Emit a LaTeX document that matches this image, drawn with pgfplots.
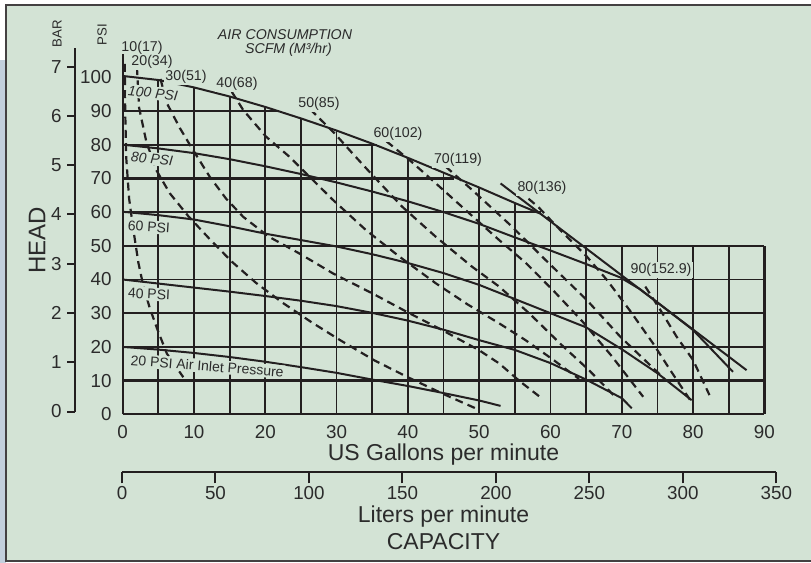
\documentclass[border=0pt]{standalone}
\usepackage{pgfplots}
\pgfplotsset{compat=1.18}
\usepackage{fontspec}
\setmainfont{Liberation Sans}
\definecolor{bg}{HTML}{D3E3D5}
\definecolor{ink}{HTML}{231F20}
\definecolor{txt}{HTML}{2B2B2B}
\definecolor{edge}{HTML}{C3D0DD}
\tikzset{
  grid line/.style={ink, line width=0.9pt},
  grid bold/.style={ink, line width=1.15pt},
  curve/.style={ink, line width=1pt, line join=round},
  air/.style={ink, line width=1.1pt, dash pattern=on 4pt off 2.6pt, line join=round},
  lbl/.style={font=\fontsize{7.1}{8}\selectfont, text=txt, inner sep=0pt},
  masked/.style={fill=bg, inner sep=0.8pt},
}
\begin{document}
\begin{tikzpicture}
% frame: 811 x 563 px at 0.5pt per px
\begin{scope}[x=0.5pt,y=-0.5pt]
\useasboundingbox (0,0) rectangle (811,563);
\fill[white] (0,0) rectangle (811,563);
\fill[edge] (0,60) rectangle (6,563);
\fill[bg] (6,5) rectangle (811,561);
\draw[ink!85, line width=1.2pt] (811,5) -- (6,5) -- (6,561) -- (811,561);
\end{scope}

% BAR scale
\begin{axis}[
  at={(37.5pt,-205.75pt)}, anchor=south west,
  scale only axis, width=1pt, height=181.8pt,
  xmin=0, xmax=1, ymin=0, ymax=7.38,
  axis y line=left, axis x line=none,
  axis line style={ink, line width=1pt, -},
  ytick={0,...,7}, xtick=\empty,
  tick align=outside, major tick length=4pt,
  tick style={ink, line width=1pt},
  /pgf/number format/assume math mode=true,
  yticklabel style={font=\fontsize{9.4}{10}\selectfont, text=txt, inner sep=0pt, anchor=east, xshift=-2.5pt},
]
\addplot[draw=none] coordinates {(0,0) (1,7)};
\end{axis}

% Liters per minute scale
\begin{axis}[
  at={(61pt,-235.85pt)}, anchor=south west,
  scale only axis, width=327.2pt, height=1pt,
  xmin=0, xmax=350, ymin=0, ymax=1,
  axis x line=bottom, axis y line=none,
  axis line style={ink, line width=1.2pt, -},
  xtick={0,50,...,350}, ytick=\empty,
  tick align=outside, major tick length=5.85pt,
  tick style={ink, line width=1pt},
  /pgf/number format/assume math mode=true,
  xticklabel style={font=\fontsize{9.4}{10}\selectfont, text=txt, inner sep=0pt, anchor=north, yshift=-1.45pt},
]
\addplot[draw=none] coordinates {(0,0) (350,1)};
\end{axis}

% main chart: head (PSI) vs US gallons per minute
\begin{axis}[
  at={(61.35pt,-207.15pt)}, anchor=south west,
  scale only axis, width=320.85pt, height=185.35pt,
  xmin=0, xmax=90, ymin=0, ymax=110,
  axis x line*=bottom, axis y line*=left,
  axis line style={draw=none}, major tick length=0pt,
  xtick={0,10,...,90}, ytick={0,10,...,100},
  /pgf/number format/assume math mode=true,
  tick label style={font=\fontsize{9.4}{10}\selectfont, text=txt, inner sep=0pt},
  xticklabel style={anchor=north, yshift=-5.5pt},
  yticklabel style={anchor=east, xshift=-5.35pt},
  clip=false,
  unbounded coords=jump,
]
% grid under the 100 PSI curve
\addplot[grid line] coordinates {
 (5,0) (5,99.2) (nan,nan)
 (10,0) (10,97.0) (nan,nan)
 (15,0) (15,94.3) (nan,nan)
 (20,0) (20,91.2) (nan,nan)
 (25,0) (25,87.8) (nan,nan)
 (30,0) (30,84.2) (nan,nan)
 (35,0) (35,80.3) (nan,nan)
 (40,0) (40,76.1) (nan,nan)
 (45,0) (45,71.7) (nan,nan)
 (50,0) (50,67.3) (nan,nan)
 (55,0) (55,62.7) (nan,nan)
 (60,0) (60,57.4) (nan,nan)
 (65,0) (65,50) (nan,nan)
 (70,0) (70,50) (nan,nan)
 (75,0) (75,50) (nan,nan)
 (80,0) (80,50) (nan,nan)
 (85,0) (85,50) (nan,nan)
 (0,20) (90,20) (nan,nan)
 (0,30) (90,30) (nan,nan)
 (0,40) (90,40) (nan,nan)
 (0,60) (58.6,60) (nan,nan)
 (0,80) (35.6,80)
};
\addplot[grid bold] coordinates {
 (0,0) (0,107) (nan,nan)
 (90,0) (90,50) (nan,nan)
 (0,0) (90,0) (nan,nan)
 (0,10) (90,10) (nan,nan)
 (0,50) (90,50) (nan,nan)
 (0,70) (46.4,70) (nan,nan)
 (0,90) (21.6,90)
};

% pressure curves
\addplot[curve] coordinates {(0,100.4) (5,99.2) (10,97.0) (15,94.3) (20,91.2) (25,87.8) (30,84.2) (35,80.3) (40,76.1) (45,71.7) (50,67.3) (55,62.7) (58.5,59.6)};
\addplot[curve] coordinates {(53,68.5) (87.5,13.1)};
\addplot[curve] coordinates {(0,80) (5,78.9) (10,77.5) (15,75.7) (20,73.6) (25,71.3) (30,68.8) (35,66.1) (40,63.2) (45,60) (50,56.5) (55,52.5) (60,48.6) (65,44.6) (69.8,40.6) (72.5,37.2) (75,33.2) (80,25) (85.6,12.6)};
\addplot[curve] coordinates {(0,60.1) (5,59.1) (10,57.8) (15,55.8) (20,53.6) (25,51.7) (30,49.8) (35,47.5) (40,44.9) (45,41.9) (50,38.4) (55,34.2) (60,30) (65,25.8) (70,19.3) (75,12.2) (79.8,4.2)};
\addplot[curve] coordinates {(0,40) (5,38.8) (10,37.6) (15,36.4) (20,35.1) (25,33.7) (30,32.1) (35,30.1) (40,27.8) (45,25.1) (50,22) (55,19.1) (60,15.2) (65,10.3) (70,4.8) (71.4,1.8)};
\addplot[curve] coordinates {(0,20) (5,19.2) (10,18.2) (15,17) (20,15.6) (25,14) (30,12.3) (35,10.3) (40,8.4) (45,6.3) (50,4.1) (53,2.5)};

% air consumption lines (SCFM)
\addplot[air] coordinates {(0.3,104) (0.35,90) (0.5,76) (0.9,64) (1.5,54.7) (2.2,45) (2.9,38) (3.8,31.5) (4.9,25) (6.2,18) (8.5,11)};
\addplot[air] coordinates {(2,103) (2.3,91) (3.3,81) (4.7,72.5) (6.6,65.6) (9.2,58.8) (12.2,52) (15.3,45.3) (18.7,39) (22.5,33) (26.5,27.3) (30.5,22) (35.3,16) (40,11) (45,6) (50,1.3)};
\addplot[air] coordinates {(5.3,99.5) (6.2,92.3) (8,85) (9.7,79) (12.2,70.5) (14.5,64) (16.9,58.6) (20.5,52.7) (24.8,47.7) (29.5,41.8) (35,35.9) (40.2,30) (44.8,25) (50,19) (52.8,15.1) (55.7,9.8) (58.5,5.2)};
\addplot[air] coordinates {(15.3,95.7) (16.9,90.3) (20.1,82.4) (23.4,76.4) (26.2,70.5) (29.5,63.6) (34.1,54.7) (38.8,46.8) (43.9,38.9) (48.3,32.7) (52.8,27) (56.5,22) (60.5,16) (64,10.5)};
\addplot[air] coordinates {(26.3,90.5) (29.7,83.4) (32.2,77.5) (34.8,71.5) (39.2,61.6) (43.9,52.7) (49,43.8) (52.8,37.9) (57,30) (61.6,20.5) (65.4,13.1) (69.3,4.7)};
\addplot[air] coordinates {(37,81) (40.2,75.5) (44.2,68) (48.1,60.6) (52.8,51.7) (56.5,45) (60.5,36.5) (64.5,27.5) (68.5,17.5) (73,5.2)};
\addplot[air] coordinates {(45.3,73.5) (49,66.6) (54.6,55.7) (59.3,45.8) (65.1,33.9) (69.8,23) (75.9,10.7)};
\addplot[air] coordinates {(55.5,66.5) (58.3,61.5) (60.9,55.7) (65.1,46.8) (67.9,39.9) (71.1,30.9) (74.4,21) (76.8,13.1) (79.6,4.2)};
\addplot[air] coordinates {(73.3,37.9) (75.4,31) (77.7,23) (80,16.1) (82.3,5.7)};

% labels
\node[lbl] at (axis cs:2.71,108.8) {10(17)};
\node[lbl, masked] at (axis cs:4.11,104.5) {20(34)};
\node[lbl, masked] at (axis cs:8.88,100.1) {30(51)};
\node[lbl, masked] at (axis cs:16.03,98.0) {40(68)};
\node[lbl, masked] at (axis cs:27.53,92.1) {50(85)};
\node[lbl, masked] at (axis cs:38.61,83.2) {60(102)};
\node[lbl, masked] at (axis cs:47.03,75.5) {70(119)};
\node[lbl, masked] at (axis cs:58.81,67.3) {80(136)};
\node[lbl, masked] at (axis cs:75.5,42.8) {90(152.9)};
\node[lbl, font=\fontsize{7.1}{8}\selectfont\itshape] at (axis cs:22.76,112.7) {AIR CONSUMPTION};
\node[lbl, font=\fontsize{7.1}{8}\selectfont\itshape] at (axis cs:23.25,108.1) {SCFM (M³/hr)};
\node[lbl, masked, font=\fontsize{7}{8}\selectfont\itshape, rotate=-6] at (axis cs:4.25,95.3) {100 PSI};
\node[lbl, masked, font=\fontsize{7}{8}\selectfont\itshape, rotate=-5] at (axis cs:4.11,75.8) {80 PSI};
\node[lbl, masked, font=\fontsize{7}{8}\selectfont, rotate=-4] at (axis cs:3.69,55.6) {60 PSI};
\node[lbl, masked, font=\fontsize{7}{8}\selectfont, rotate=-3] at (axis cs:3.69,35.7) {40 PSI};
\node[lbl, masked, font=\fontsize{7}{8}\selectfont, rotate=-4.5] at (axis cs:11.85,14.3) {20 PSI Air Inlet Pressure};
\node[lbl, font=\fontsize{6.6}{7}\selectfont, rotate=90] at (axis cs:-9.21,113) {BAR};
\node[lbl, font=\fontsize{6.6}{7}\selectfont, rotate=90] at (axis cs:-2.9,112.6) {PSI};
\node[lbl, font=\fontsize{12}{13}\selectfont, rotate=90] at (axis cs:-12.02,51.7) {HEAD};
\node[lbl, font=\fontsize{11.5}{13}\selectfont] at (axis cs:45,-12.08) {US Gallons per minute};
\node[lbl, font=\fontsize{11.5}{13}\selectfont] at (axis cs:45,-30.39) {Liters per minute};
\node[lbl, font=\fontsize{11.5}{13}\selectfont] at (axis cs:45,-37.8) {CAPACITY};
\end{axis}
\end{tikzpicture}
\end{document}
